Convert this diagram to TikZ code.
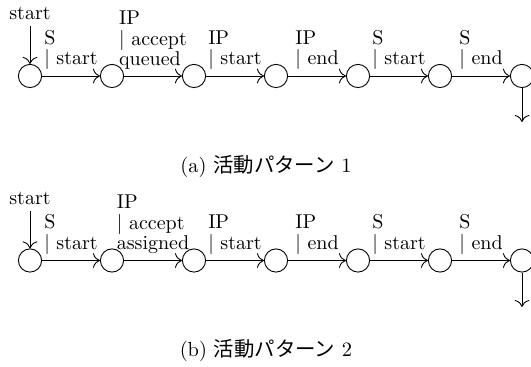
\documentclass[tikz,border=0pt]{standalone}
\usepackage{fontspec}
\usetikzlibrary{arrows.meta}
\newfontfamily\jpfont{Noto Sans CJK JP}
\begin{document}
\begin{tikzpicture}[x=0.5pt,y=-0.5pt,
  state/.style={circle,draw,line width=0.45pt,minimum size=11.6pt,inner sep=0pt},
  edgelbl/.style={above,align=left,inner sep=3pt,font=\fontsize{10}{10.25}\selectfont},
  flow/.style={-{To[scale=1.35]},line width=0.45pt},
  captext/.style={inner sep=0pt,font=\fontsize{10.2}{12}\selectfont}]
\useasboundingbox (0,0) rectangle (531,367);

% row (a)
\foreach \i/\x in {1/30,2/112,3/194,4/276,5/358,6/440,7/522}
  \node[state] (a\i) at (\x,76) {};
\node[inner sep=3.3pt] (as) at (30,13) {start};
\draw[flow] (as) -- (a1);
\foreach \i/\j/\t in {1/2/{S\\| start},2/3/{IP\\| accept\\queued},3/4/{IP\\| start},
                     4/5/{IP\\| end},5/6/{S\\| start},6/7/{S\\| end}}
  \draw[flow] (a\i) -- node[edgelbl] (la\i) {\t} (a\j);
\coordinate (ae) at (522,122);
\draw[flow] (a7) -- (ae);
\node[captext] (capa) at (266,167) {(a) {\jpfont 活動パターン} 1};

% row (b)
\foreach \i/\x in {1/30,2/112,3/194,4/276,5/358,6/440,7/522}
  \node[state] (b\i) at (\x,260.5) {};
\node[inner sep=3.3pt] (bs) at (30,198) {start};
\draw[flow] (bs) -- (b1);
\foreach \i/\j/\t in {1/2/{S\\| start},2/3/{IP\\| accept\\assigned},3/4/{IP\\| start},
                     4/5/{IP\\| end},5/6/{S\\| start},6/7/{S\\| end}}
  \draw[flow] (b\i) -- node[edgelbl] (lb\i) {\t} (b\j);
\coordinate (be) at (522,307);
\draw[flow] (b7) -- (be);
\node[captext] (capb) at (266,351) {(b) {\jpfont 活動パターン} 2};
\end{tikzpicture}
\end{document}
